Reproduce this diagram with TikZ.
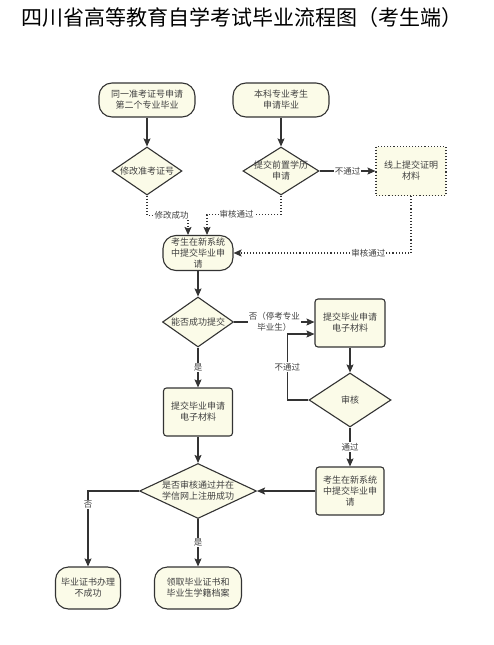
\documentclass[tikz,border=0pt]{standalone}
\usepackage{fontspec}
\setmainfont{Noto Sans CJK SC}
\usetikzlibrary{arrows.meta,shapes.geometric}
\definecolor{figFill}{RGB}{251,251,232}
\definecolor{figLine}{RGB}{51,51,51}
\definecolor{figText}{RGB}{64,64,64}

\begin{document}
\begin{tikzpicture}[x=1pt,y=-1pt,>={Stealth[length=8pt,width=7pt,inset=1.5pt]},
  every node/.style={text=figText,font=\fontsize{9}{11}\selectfont,align=center},
  startbox/.style={draw=figLine,fill=figFill,line width=1.1pt,rounded corners=13pt,inner sep=0pt},
  stepbox/.style={draw=figLine,fill=figFill,line width=1.1pt,rounded corners=3pt,inner sep=0pt},
  dotbox/.style={draw=figLine,fill=figFill,line width=1.1pt,dotted,inner sep=0pt},
  choice/.style={diamond,draw=figLine,fill=figFill,line width=1.1pt,aspect=2,inner xsep=-12pt,inner ysep=-4pt},
  line/.style={draw=figLine,line width=1.1pt},
  dline/.style={line,dotted},
  lbl/.style={fill=white,inner sep=1pt,font=\fontsize{8.5}{10.5}\selectfont}]
\useasboundingbox (0,0) rectangle (493,645);
\node[text=black,font=\fontsize{21}{24}\selectfont] (title) at (242,18) {四川省高等教育自学考试毕业流程图（考生端）};

% top row
\node[startbox,minimum width=96,minimum height=34] (ks) at (147,100) {同一准考证号申请\\第二个专业毕业};
\node[startbox,minimum width=96,minimum height=34] (bk) at (281,100) {本科专业考生\\申请毕业};
\node[choice,minimum width=70,minimum height=48] (xg) at (147,171) {修改准考证号};
\node[choice,minimum width=76,minimum height=48] (tj) at (281,171) {提交前置学历\\申请};
\node[dotbox,minimum width=70,minimum height=49] (xs) at (411,171) {线上提交证明\\材料};
\node[startbox,minimum width=70,minimum height=35] (sq) at (198,253) {考生在新系统\\中提交毕业申\\请};

% middle
\node[choice,minimum width=71,minimum height=50] (nf) at (198,322) {能否成功提交};
\node[stepbox,minimum width=70,minimum height=48] (tb) at (350,323) {提交毕业申请\\电子材料};
\node[choice,minimum width=82,minimum height=54] (sh) at (350,400) {审核};
\node[stepbox,minimum width=69,minimum height=48] (tl) at (198,412) {提交毕业申请\\电子材料};
\node[stepbox,minimum width=68,minimum height=48] (tr) at (350,491) {考生在新系统\\中提交毕业申\\请};
\node[choice,minimum width=117,minimum height=55] (sf) at (198,491) {是否审核通过并在\\学信网上注册成功};

% bottom
\node[startbox,minimum width=65,minimum height=42] (bc) at (88,588) {毕业证书办理\\不成功};
\node[startbox,minimum width=87,minimum height=42] (lq) at (198,588) {领取毕业证书和\\毕业生学籍档案};

\draw[line,->] (ks) -- (xg);
\draw[line,->] (bk) -- (tj);
\draw[line,->] (tj) -- node[lbl]{不通过} (xs);
\draw[dline,->] (xg.south) -- ++(0,20) -| node[lbl,pos=0.3]{修改成功} ([xshift=-10pt]sq.north);
\draw[dline,->] (tj.south) -- ++(0,19) -| node[lbl,pos=0.3]{审核通过} ([xshift=9pt]sq.north);
\draw[dline,->] (xs.south) |- node[lbl,pos=0.62]{审核通过} (sq.east);
\draw[line,->] (sq) -- (nf);
\draw[line,->] (nf.east) -- node[lbl]{否（停考专业\\毕业生）} (nf.east -| tb.west);
\draw[line,->] (nf) -- node[lbl]{是} (tl);
\draw[line,->] (tb) -- (sh);
\draw[line,->] (sh.west) -- ++(-21,0) |- node[lbl,pos=0.25]{不通过} ([yshift=-11pt]tb.west);
\draw[line,->] (sh) -- node[lbl]{通过} (tr);
\draw[line,->] (tr) -- (sf);
\draw[line,->] (tl) -- (sf);
\draw[line,->] (sf.west) -| node[lbl,pos=0.59]{否} (bc.north);
\draw[line,->] (sf) -- node[lbl]{是} (lq);
\end{tikzpicture}
\end{document}
